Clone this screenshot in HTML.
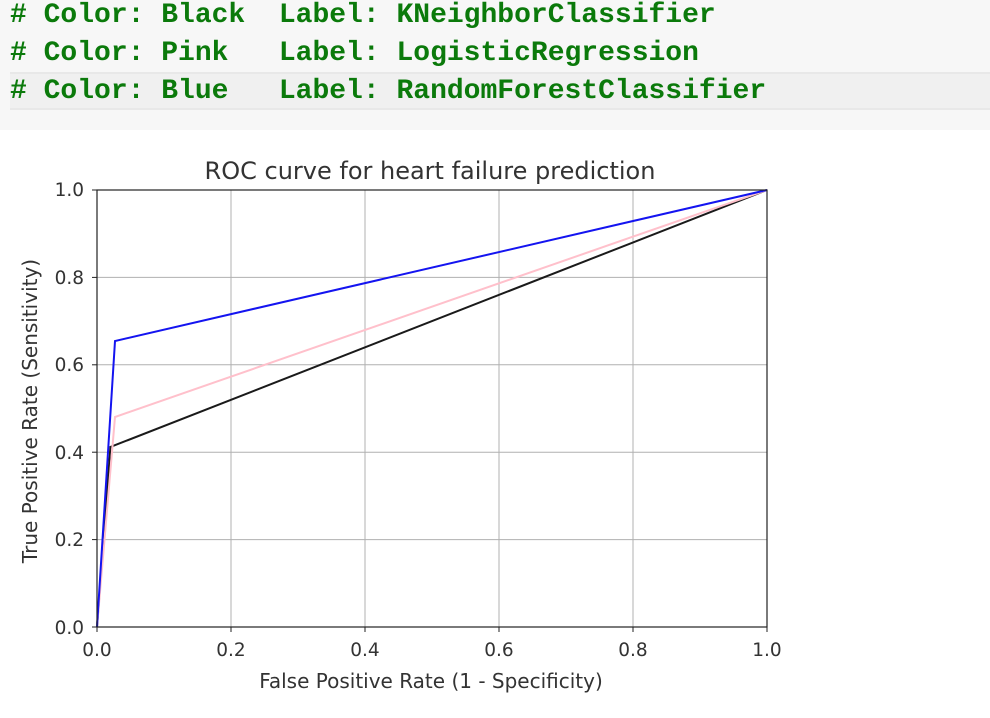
<!DOCTYPE html>
<html><head><style>
body{margin:0;width:990px;height:718px;background:#fff;overflow:hidden;position:relative;font-family:"Liberation Sans",sans-serif}
#code{position:absolute;left:0;top:0;width:990px;height:130px;background:#f7f7f7}
#hl{position:absolute;left:10px;top:72px;width:980px;height:34px;background:#f0f0f0;border-top:2px solid #e8e8e8;border-bottom:2px solid #e8e8e8}
.l{position:absolute;left:10px;font-family:"Liberation Mono",monospace;font-size:28px;line-height:28px;font-weight:bold;color:#0b7a0b;white-space:pre}
</style></head><body>
<div id="code"><div id="hl"></div>
<div class="l" style="top:2px"># Color: Black  Label: KNeighborClassifier</div>
<div class="l" style="top:40px"># Color: Pink   Label: LogisticRegression</div>
<div class="l" style="top:78px"># Color: Blue   Label: RandomForestClassifier</div>
</div>
<svg width="990" height="718" style="position:absolute;left:0;top:0" font-family="DejaVu Sans, sans-serif">
<g stroke="#b0b0b0" stroke-width="1">
<line x1="231" y1="190" x2="231" y2="627"/><line x1="365" y1="190" x2="365" y2="627"/><line x1="499" y1="190" x2="499" y2="627"/><line x1="633" y1="190" x2="633" y2="627"/>
<line x1="97" y1="539.6" x2="767" y2="539.6"/><line x1="97" y1="452.2" x2="767" y2="452.2"/><line x1="97" y1="364.8" x2="767" y2="364.8"/><line x1="97" y1="277.4" x2="767" y2="277.4"/>
</g>
<polyline points="97,627 110.4,447 767,190" fill="none" stroke="#1a1a1a" stroke-width="2"/>
<polyline points="97,627 115,417 767,190" fill="none" stroke="#ffc0cb" stroke-width="2"/>
<polyline points="97,627 115,341 767,190" fill="none" stroke="#1414f0" stroke-width="2"/>
<rect x="97" y="190" width="670" height="437" fill="none" stroke="#222" stroke-width="1.2"/>
<g stroke="#222" stroke-width="1">
<line x1="97" y1="627" x2="97" y2="632"/><line x1="231" y1="627" x2="231" y2="632"/><line x1="365" y1="627" x2="365" y2="632"/><line x1="499" y1="627" x2="499" y2="632"/><line x1="633" y1="627" x2="633" y2="632"/><line x1="767" y1="627" x2="767" y2="632"/>
<line x1="92" y1="627" x2="97" y2="627"/><line x1="92" y1="539.6" x2="97" y2="539.6"/><line x1="92" y1="452.2" x2="97" y2="452.2"/><line x1="92" y1="364.8" x2="97" y2="364.8"/><line x1="92" y1="277.4" x2="97" y2="277.4"/><line x1="92" y1="190" x2="97" y2="190"/>
</g>
<g font-size="18.5" fill="#333" text-anchor="middle">
<text x="97" y="656">0.0</text><text x="231" y="656">0.2</text><text x="365" y="656">0.4</text><text x="499" y="656">0.6</text><text x="633" y="656">0.8</text><text x="767" y="656">1.0</text>
</g>
<g font-size="18.5" fill="#333" text-anchor="end">
<text x="84" y="634">0.0</text><text x="84" y="546">0.2</text><text x="84" y="459">0.4</text><text x="84" y="371">0.6</text><text x="84" y="284">0.8</text><text x="84" y="196">1.0</text>
</g>
<text x="430" y="179" font-size="24" fill="#333" text-anchor="middle">ROC curve for heart failure prediction</text>
<text x="431" y="688" font-size="20" fill="#333" text-anchor="middle">False Positive Rate (1 - Specificity)</text>
<text transform="translate(37,411) rotate(-90)" font-size="20" fill="#333" text-anchor="middle">True Positive Rate (Sensitivity)</text>
</svg>
</body></html>
